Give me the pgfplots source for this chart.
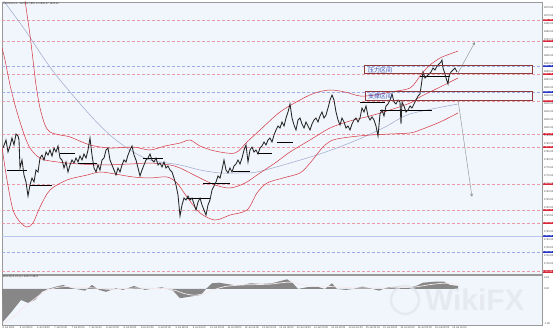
\documentclass[border=0pt]{standalone}
\usepackage{fontspec}
\setmainfont{Liberation Sans}
\newfontfamily\cjk{Noto Sans CJK SC}
\usepackage{pgfplots}
\pgfplotsset{compat=1.18}
\definecolor{bg}{HTML}{F0F6FC}
\definecolor{lvlred}{HTML}{EA9CA6}
\definecolor{lvlblue}{HTML}{9CAAE8}
\definecolor{boxred}{HTML}{8E3A3A}
\definecolor{bandred}{HTML}{D6343F}
\definecolor{maBlue}{HTML}{9EA8CC}
\definecolor{pricec}{HTML}{252525}
\definecolor{labred}{HTML}{D9283A}
\definecolor{labblue}{HTML}{2634C8}
\definecolor{zoneblue}{HTML}{3A4FB0}
\definecolor{histc}{HTML}{878787}
\definecolor{sigc}{HTML}{F7E8EC}
\definecolor{wm}{HTML}{E2E6EB}
\begin{document}
\begin{tikzpicture}[x=1bp,y=1bp]
\useasboundingbox (0,0) rectangle (553,331);
\fill[white] (0,0) rectangle (553,331);
\begin{axis}[
  at={(2bp,329bp)}, anchor=north west,
  scale only axis, width=540bp, height=272bp,
  xmin=2, xmax=542, ymin=1708.75, ymax=1878.75,
  axis background/.style={fill=bg},
  axis line style={draw=gray!80, line width=0.5bp},
  xtick=\empty,
  ytick={1710,1715,...,1876},
  yticklabel pos=right, ytick pos=right,
  tick style={draw=gray!80, line width=0.3bp},
  major tick length=1.2bp, tick align=outside,
  yticklabel style={font=\fontsize{2.6}{3}\selectfont, text=black!75, inner xsep=0.6bp,
    /pgf/number format/fixed, /pgf/number format/fixed zerofill,
    /pgf/number format/precision=2, /pgf/number format/1000 sep={}},
  /pgf/number format/assume math mode=true,
  clip mode=individual,
]
% horizontal levels
\pgfplotsinvokeforeach{1867.5,1854.4,1833.75,1816.9,1796.25,1788.1,1765,1748.75,1740.6,1710.3}{
  \addplot[lvlred, line width=0.5bp, dash pattern=on 3bp off 2bp, forget plot] coordinates {(2,#1) (542,#1)};
}
\pgfplotsinvokeforeach{1838.75,1822.5,1722.5}{
  \addplot[lvlblue, line width=0.5bp, dash pattern=on 3bp off 2bp, forget plot] coordinates {(2,#1) (542,#1)};
}
\addplot[lvlblue!70, line width=0.5bp, forget plot] coordinates {(2,1732.5) (542,1732.5)};
% long moving average
\addplot[maBlue, line width=0.5bp, smooth] coordinates {
(3,1880) (25,1861.25) (45,1842.5) (60,1830) (90,1808.1) (110,1795.6) (130,1786.25) (150,1780)
(180,1776.9) (200,1773.75) (220,1771.9) (240,1771.9) (257,1772.5) (290,1778.1) (323,1784.4)
(357,1792.5) (385,1800.6) (410,1808.75) (458,1815)};
% Bollinger bands
\addplot[bandred, line width=0.5bp, smooth] coordinates {
(20,1905) (25,1880) (30,1858.1) (33,1842.5) (36,1826.9) (40,1812.5) (45,1801.9) (50,1797.5)
(60,1795.6) (70,1794.4) (90,1789.4) (110,1787.5) (133,1788.1) (150,1786.25) (165,1788.75)
(180,1790.6) (190,1792.5) (200,1788.75) (215,1785.6) (235,1784.4) (247,1791.25) (260,1798.75)
(280,1810) (300,1817.5) (315,1821.9) (330,1823.75) (345,1822.5) (360,1820) (375,1820.6)
(390,1822.5) (410,1825) (420,1832.5) (425,1836.25) (430,1839.4) (440,1843.75) (450,1846.25) (458,1848.1)};
\addplot[bandred, line width=0.5bp, smooth] coordinates {
(2,1850) (5,1842.5) (10,1826.9) (15,1814.4) (20,1803.75) (25,1794.4) (30,1787.5) (37,1782.5)
(45,1780) (67,1778.1) (100,1776.9) (130,1777.5) (150,1778.1) (170,1776.9) (180,1775) (190,1771.9)
(200,1768.75) (215,1764.4) (230,1762.5) (245,1765.6) (260,1771.9) (275,1778.1) (290,1785)
(310,1792.5) (330,1800) (350,1804.4) (370,1807.5) (390,1811.25) (410,1815.6) (420,1819.4)
(440,1825.6) (458,1831.25)};
\addplot[bandred, line width=0.5bp, smooth] coordinates {
(2,1788.1) (7,1767.5) (13,1748.75) (20,1741.25) (27,1738.1) (33,1740.6) (40,1750.6) (50,1761.25)
(67,1767.5) (87,1770.6) (100,1772.5) (115,1771.25) (133,1769.4) (150,1768.75) (167,1769.4)
(177,1765.6) (187,1756.9) (200,1746.9) (215,1742.5) (230,1745.6) (247,1748.75) (257,1759.4)
(267,1765.6) (283,1768.75) (300,1771.9) (310,1778.1) (323,1788.1) (333,1792.5) (350,1794.4)
(370,1795.6) (390,1796.25) (410,1796.9) (420,1798.75) (440,1803.75) (458,1809.4)};
% pivot segments
\addplot[black, line width=0.6bp, unbounded coords=jump] coordinates {
(7,1773.75) (27,1773.75) (27,nan) (30,1764.4) (52,1764.4) (52,nan) (60,1784.4) (75,1784.4) (75,nan)
(78,1778.1) (97,1778.1) (97,nan) (143,1781.25) (163,1781.25) (163,nan) (187,1756.25) (210,1756.25) (210,nan)
(203,1765.6) (230,1765.6) (230,nan) (233,1773.1) (250,1773.1) (250,nan) (257,1784.4) (272,1784.4) (272,nan)
(277,1791.25) (293,1791.25) (293,nan) (360,1816.25) (385,1816.25) (385,nan) (380,1811.25) (432,1811.25) (432,nan)
(420,1832.5) (450,1832.5)};
% price
\addplot[pricec, line width=0.85bp] coordinates {
(3,1787.5) (6,1792.5) (8,1785) (10,1788.75) (12,1793.75) (14,1789.4) (16,1796.25) (18,1795) (19,1792.5)
(20,1775) (22,1780) (24,1770.6) (26,1766.25) (28,1757.5) (30,1764.4) (32,1768.75) (34,1766.25) (36,1773.75)
(38,1772.5) (40,1781.25) (42,1783.1) (44,1780) (46,1785) (48,1783.1) (50,1786.25) (52,1782.5) (54,1787.5)
(56,1785) (58,1788.75) (60,1781.25) (62,1780) (64,1775) (66,1778.75) (68,1772.5) (70,1776.9) (72,1780)
(74,1778.1) (76,1781.25) (78,1778.75) (80,1782.5) (82,1780) (84,1783.75) (86,1781.25) (88,1786.25)
(90,1793.75) (92,1783.1) (94,1775) (96,1772.5) (98,1776.9) (100,1773.75) (102,1780) (104,1781.25)
(106,1786.25) (108,1787.5) (110,1780) (112,1776.9) (114,1773.75) (116,1770.6) (118,1775) (120,1772.5)
(122,1776.9) (124,1780) (126,1778.75) (128,1783.1) (130,1786.25) (132,1788.75) (134,1783.1) (136,1780)
(138,1775) (140,1770) (142,1773.75) (144,1776.9) (146,1780) (148,1781.25) (150,1783.75) (152,1780)
(154,1778.75) (156,1781.25) (158,1776.9) (160,1778.1) (162,1775.6) (164,1778.75) (166,1775) (168,1776.25)
(170,1773.75) (172,1772.5) (174,1768.75) (176,1764.4) (178,1758.1) (180,1745) (182,1751.9) (184,1756.25)
(186,1755) (188,1757.5) (190,1755) (192,1756.25) (194,1752.5) (196,1748.75) (198,1753.75) (200,1756.25)
(202,1751.9) (204,1748.75) (206,1745.6) (208,1751.9) (210,1755) (212,1761.25) (214,1763.75) (216,1766.25)
(218,1770) (220,1768.75) (222,1773.75) (224,1780) (226,1773.75) (228,1771.9) (230,1775) (232,1772.5)
(234,1776.25) (236,1777.5) (238,1780) (240,1777.5) (242,1781.25) (244,1786.25) (246,1789.4) (248,1778.75)
(250,1786.25) (252,1788.1) (254,1785) (256,1786.25) (258,1783.75) (260,1787.5) (262,1788.75) (264,1791.25)
(266,1789.4) (268,1792.5) (270,1793.75) (272,1791.25) (274,1795.6) (276,1798.75) (278,1801.25) (280,1800)
(282,1803.75) (284,1801.25) (286,1806.25) (288,1810) (290,1815) (292,1806.25) (294,1801.9) (296,1798.75)
(298,1805) (300,1806.25) (302,1802.5) (304,1800) (306,1803.75) (308,1801.25) (310,1798.75) (312,1802.5)
(314,1805) (316,1806.25) (318,1803.75) (320,1807.5) (322,1810) (324,1806.25) (326,1808.1) (328,1812.5)
(330,1817.5) (332,1820.6) (334,1817.5) (336,1810) (338,1805) (340,1801.9) (342,1806.25) (344,1803.75)
(346,1800) (348,1801.25) (350,1798.75) (352,1802.5) (354,1805) (356,1806.25) (358,1803.75) (360,1806.25)
(362,1812.5) (364,1810) (366,1813.75) (368,1807.5) (370,1805) (372,1806.9) (374,1805) (376,1801.25)
(378,1795) (380,1808.75) (382,1811.25) (384,1807.5) (386,1813.75) (388,1815) (390,1817.5) (392,1821.25)
(394,1816.25) (396,1815) (398,1817.5) (400,1816.25) (401,1802.5) (402,1816.25) (404,1813.75) (406,1810)
(408,1811.25) (410,1813.75) (412,1812.5) (414,1815) (416,1817.5) (418,1820) (420,1821.25) (422,1830)
(423,1835) (425,1831.25) (427,1832.5) (429,1833.75) (431,1835) (433,1837.5) (435,1836.25) (437,1838.75)
(439,1840) (441,1841.25) (442,1842.5) (443,1837.5) (445,1833.75) (446,1831.25) (448,1827.5) (449,1832.5)
(451,1835) (453,1836.25) (455,1837.5) (457,1835)};
% zones
\draw[boxred, line width=1bp] (axis cs:364,1838.75) rectangle (axis cs:532,1833.75);
\draw[boxred, line width=1bp] (axis cs:365,1822.5) rectangle (axis cs:532,1816.9);
\node[anchor=west, text=zoneblue, font=\cjk\fontsize{6}{6}\selectfont, inner sep=0pt] at (axis cs:368,1836.3) {压力区间};
\node[anchor=west, text=zoneblue, font=\cjk\fontsize{6}{6}\selectfont, inner sep=0pt] at (axis cs:368,1819.7) {支撑区间};
% projection arrows
\draw[gray!85, line width=0.45bp, -stealth] (axis cs:458,1834.4) -- (axis cs:475,1853.75);
\draw[gray!85, line width=0.45bp, -stealth] (axis cs:458,1817.5) -- (axis cs:472,1756.9);
\node[anchor=north west, font=\fontsize{2.6}{3}\selectfont, text=black!80, inner sep=0.8bp] at (rel axis cs:0,1) {XAUUSD,H1\ \ 1829.52 1830.14 1828.97 1829.40};
% label anchors
\coordinate (r1) at (axis cs:542,1867.5);
\coordinate (r2) at (axis cs:542,1854.4);
\coordinate (r3) at (axis cs:542,1833.75);
\coordinate (r4) at (axis cs:542,1816.9);
\coordinate (r5) at (axis cs:542,1796.25);
\coordinate (r6) at (axis cs:542,1788.1);
\coordinate (r7) at (axis cs:542,1765);
\coordinate (r8) at (axis cs:542,1748.75);
\coordinate (r9) at (axis cs:542,1740.6);
\coordinate (r10) at (axis cs:542,1710.3);
\coordinate (b1) at (axis cs:542,1838.75);
\coordinate (b2) at (axis cs:542,1822.5);
\coordinate (b3) at (axis cs:542,1732.5);
\coordinate (b4) at (axis cs:542,1722.5);
\end{axis}
\tikzset{lab/.style={anchor=west, text=white, font=\fontsize{2.6}{3}\selectfont, inner xsep=0.4bp, inner ysep=0.45bp, minimum width=10.5bp, xshift=0.3bp}}
\foreach \n/\t in {r1/1867.50, r2/1854.40, r3/1833.75, r4/1816.90, r5/1796.25, r6/1788.10, r7/1765.00, r8/1748.75, r9/1740.60, r10/1710.30}
  \node[lab, fill=labred] at (\n) {\t};
\foreach \n/\t in {b1/1838.75, b2/1822.50, b3/1732.50, b4/1722.50}
  \node[lab, fill=labblue] at (\n) {\t};
% MACD panel
\begin{axis}[
  at={(2bp,56bp)}, anchor=north west,
  scale only axis, width=540bp, height=50bp,
  xmin=2, xmax=542, ymin=-7.5, ymax=2.9,
  axis background/.style={fill=bg},
  axis line style={draw=gray!80, line width=0.5bp},
  xtick={2,19.3,...,453},
  xticklabels={6 Jul 2021, 6 Jul 08:00, 6 Jul 16:00, 7 Jul 00:00, 7 Jul 08:00, 7 Jul 16:00, 8 Jul 00:00, 8 Jul 08:00, 8 Jul 16:00, 9 Jul 00:00, 9 Jul 08:00, 9 Jul 16:00, 12 Jul 00:00, 12 Jul 08:00, 12 Jul 16:00, 13 Jul 00:00, 13 Jul 08:00, 13 Jul 16:00, 14 Jul 00:00, 14 Jul 08:00, 14 Jul 16:00, 15 Jul 00:00, 15 Jul 08:00, 15 Jul 16:00, 16 Jul 00:00, 16 Jul 08:00, 16 Jul 16:00},
  xticklabel style={font=\fontsize{2.6}{3}\selectfont, anchor=north west, inner sep=0.4bp, text=black!75},
  xtick pos=bottom,
  ytick={-7.28,0,2.29},
  yticklabel pos=right, ytick pos=right,
  tick style={draw=gray!80, line width=0.3bp},
  major tick length=1.2bp, tick align=outside,
  yticklabel style={font=\fontsize{2.6}{3}\selectfont, text=black!75, inner xsep=0.6bp,
    /pgf/number format/fixed, /pgf/number format/fixed zerofill, /pgf/number format/precision=2},
  /pgf/number format/assume math mode=true,
  clip mode=individual,
]
\addplot[fill=histc, draw=none] coordinates {
(2,0) (3,-6.8) (10.6,-5.0) (21,-2.3) (28,-2.9) (35,-2.3) (42,-0.6) (48,0) (56,0.48) (63,0.83) (71,0.2)
(85,-0.35) (92,0.83) (99,-0.2) (106,-0.6) (116,0.15) (123,-0.2) (134,0.62) (145,-0.2) (155,0.15)
(162,0.35) (173,-0.35) (180,-1.93) (190,-1.6) (201,-1.25) (206,0) (212,1.18) (219,1.3) (233,0.83)
(243,0.77) (250,1.18) (261,1.04) (272,1.18) (282,1.73) (287,2.0) (293,1.18) (298,0) (307,0.35)
(317,0.48) (325,0) (332,1.18) (337,0) (346,-0.2) (353,0) (362,0.48) (370,0.15) (379,-0.35) (388,0.35)
(399,0.48) (406,0.15) (416,0.62) (423,1.3) (434,1.5) (444,1.5) (450,0.83) (458,0.62) (458,0)} -- cycle;
\addplot[sigc, line width=0.7bp, smooth] coordinates {
(3,-7.3) (15,-5.5) (25,-3.6) (35,-2.0) (45,-0.5) (55,0.2) (65,0.5) (80,0.3) (95,0.2) (110,-0.1)
(125,0.1) (140,0.2) (155,0.1) (165,0.1) (175,-0.3) (185,-1.0) (195,-1.3) (205,-0.9) (215,-0.1)
(225,0.5) (240,0.8) (255,0.9) (270,1.0) (282,1.3) (292,1.4) (302,0.9) (315,0.5) (330,0.5) (340,0.4)
(355,0.2) (370,0.2) (385,0.2) (400,0.3) (415,0.4) (430,0.9) (445,1.2) (458,1.0)};
\node[anchor=north west, font=\fontsize{2.6}{3}\selectfont, text=black!80, inner sep=0.8bp] at (rel axis cs:0,1) {MACD(12,26,9) 0.6233 0.9821};
\end{axis}
% watermark
\begin{scope}[opacity=0.7]
\draw[wm, line width=2.5bp] (405,31) circle (14);
\node[text=wm, font=\fontsize{30}{30}\selectfont\bfseries, anchor=west, inner sep=0pt] at (425,31) {WikiFX};
\end{scope}
\end{tikzpicture}
\end{document}
